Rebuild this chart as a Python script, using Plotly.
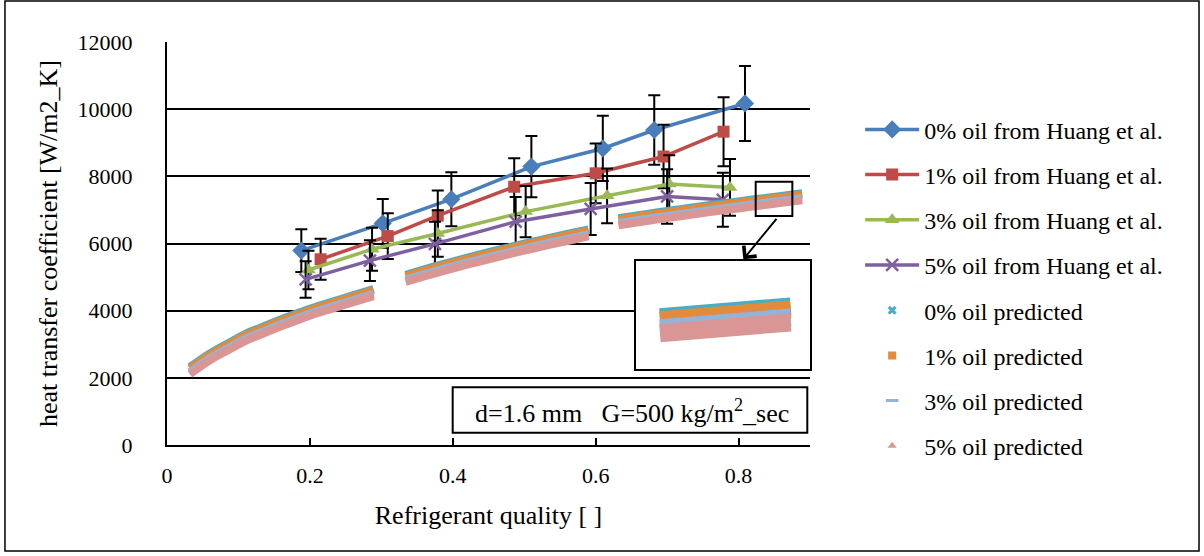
import plotly.graph_objects as go

# ---------------- data ----------------
exp_labels = ["0% oil from Huang et al.", "1% oil from Huang et al.",
              "3% oil from Huang et al.", "5% oil from Huang et al."]
exp_x_0 = [0.188, 0.302, 0.398, 0.510, 0.610, 0.682, 0.809]
exp_y_0 = [5790, 6600, 7320, 8290, 8830, 9380, 10170]
exp_x_1 = [0.215, 0.309, 0.379, 0.486, 0.600, 0.695, 0.779]
exp_y_1 = [5530, 6220, 6830, 7690, 8090, 8590, 9330]
exp_x_3 = [0.198, 0.287, 0.379, 0.502, 0.616, 0.703, 0.788]
exp_y_3 = [5210, 5830, 6300, 6950, 7420, 7770, 7670]
exp_x_5 = [0.194, 0.284, 0.375, 0.488, 0.593, 0.700, 0.778]
exp_y_5 = [4930, 5490, 5990, 6650, 7030, 7400, 7300]
error_percent = 11

pred_labels = ["0% oil predicted", "1% oil predicted", "3% oil predicted", "5% oil predicted"]
pred_x = [
    [0.032, 0.06, 0.085, 0.11, 0.135, 0.16, 0.185, 0.21, 0.235, 0.26, 0.289],
    [0.334, 0.36, 0.385, 0.41, 0.435, 0.46, 0.485, 0.51, 0.535, 0.56, 0.59],
    [0.632, 0.66, 0.685, 0.71, 0.735, 0.76, 0.785, 0.81, 0.835, 0.86, 0.889],
]
pred_0 = [
    [2320, 2730, 3025, 3310, 3530, 3745, 3942, 4132, 4294, 4456, 4645],
    [5070, 5231, 5379, 5522, 5659, 5792, 5921, 6046, 6167, 6285, 6422],
    [6753, 6843, 6921, 6997, 7072, 7144, 7215, 7284, 7352, 7419, 7494],
]
pred_1 = [
    [2280, 2690, 2985, 3270, 3490, 3705, 3902, 4092, 4254, 4416, 4605],
    [5030, 5191, 5339, 5482, 5619, 5752, 5881, 6006, 6127, 6245, 6382],
    [6713, 6803, 6881, 6957, 7032, 7104, 7175, 7244, 7312, 7379, 7454],
]
pred_3 = [
    [2175, 2585, 2880, 3165, 3385, 3600, 3797, 3987, 4149, 4311, 4500],
    [4925, 5086, 5234, 5377, 5514, 5647, 5776, 5901, 6022, 6140, 6277],
    [6608, 6698, 6776, 6852, 6927, 6999, 7070, 7139, 7207, 7274, 7349],
]
pred_5 = [
    [2110, 2520, 2815, 3100, 3320, 3535, 3732, 3922, 4084, 4246, 4435],
    [4860, 5021, 5169, 5312, 5449, 5582, 5711, 5836, 5957, 6075, 6212],
    [6543, 6633, 6711, 6787, 6862, 6934, 7005, 7074, 7142, 7209, 7284],
]
zoom_x_min = 0.83   # part of the last segment shown magnified in the inset

# ---------------- styles ----------------
FONT = "Liberation Serif"
exp_colors = ["#4A7EBB", "#BE4B48", "#98B954", "#7D60A0"]
exp_symbols = ["diamond", "square", "triangle-up", "x-thin"]
exp_sizes = [14, 12, 13, 12]
pred_colors = ["#4BACC6", "#E38A3C", "#95B3D7", "#D99694"]
pred_symbols = ["x", "square", "line-ew", "triangle-up"]


def joined(segs):
    out = []
    for i, s in enumerate(segs):
        if i:
            out.append(None)
        out.extend(s)
    return out


fig = go.Figure()

exp_x = [exp_x_0, exp_x_1, exp_x_3, exp_x_5]
exp_y = [exp_y_0, exp_y_1, exp_y_3, exp_y_5]
for i in range(4):
    sym = exp_symbols[i]
    marker = dict(symbol=sym, size=exp_sizes[i], color=exp_colors[i])
    if sym == "x-thin":
        marker = dict(symbol=sym, size=exp_sizes[i], color=exp_colors[i],
                      line=dict(color=exp_colors[i], width=2.5))
    fig.add_trace(go.Scatter(
        x=exp_x[i], y=exp_y[i], mode="lines+markers", name=exp_labels[i],
        legendgroup="e%d" % i,
        line=dict(color=exp_colors[i], width=3.5), marker=marker,
        error_y=dict(type="percent", value=error_percent, color="black",
                     thickness=2, width=6),
    ))

preds = [pred_0, pred_1, pred_3, pred_5]
for i in range(4):
    fig.add_trace(go.Scatter(
        x=joined(pred_x), y=joined(preds[i]), mode="lines",
        line=dict(color=pred_colors[i], width=8, shape="spline"),
        showlegend=False, connectgaps=False, hoverinfo="skip",
    ))

# inset (magnified view)
for i in range(4):
    xs = [x for x in pred_x[2] if x >= zoom_x_min]
    ys = [y for x, y in zip(pred_x[2], preds[i][2]) if x >= zoom_x_min]
    fig.add_trace(go.Scatter(
        x=xs, y=ys, mode="lines", xaxis="x2", yaxis="y2",
        line=dict(color=pred_colors[i], width=18),
        showlegend=False, hoverinfo="skip",
    ))

# legend entries for predicted series
for i in range(4):
    m = dict(symbol=pred_symbols[i], size=8, color=pred_colors[i])
    if pred_symbols[i] == "line-ew":
        m = dict(symbol="line-ew", size=9, color=pred_colors[i],
                 line=dict(color=pred_colors[i], width=3))
    fig.add_trace(go.Scatter(
        x=[None], y=[None], mode="markers", name=pred_labels[i],
        legendgroup="p%d" % i, marker=m,
    ))

fig.update_layout(
    width=1204, height=556,
    margin=dict(l=167, r=394, t=42, b=111),
    paper_bgcolor="white", plot_bgcolor="white",
    font=dict(family=FONT, size=22, color="black"),
    showlegend=True,
    legend=dict(x=1.078, y=0.838, xanchor="left", yanchor="top",
                font=dict(family=FONT, size=24, color="black"),
                traceorder="grouped", tracegroupgap=11, itemwidth=54,
                bgcolor="rgba(0,0,0,0)"),
    xaxis=dict(range=[0, 0.9], tick0=0, dtick=0.2, showgrid=False, zeroline=False,
               showline=True, linecolor="black", linewidth=2,
               ticks="inside", ticklen=7, tickwidth=1.5, tickcolor="black",
               ticklabelstandoff=10,
               tickfont=dict(family=FONT, size=22),
               title=dict(text="Refrigerant quality [ ]", standoff=18,
                          font=dict(family=FONT, size=26))),
    yaxis=dict(range=[0, 12000], dtick=2000, tickformat="d", showgrid=True,
               gridcolor="black", gridwidth=1.5, zeroline=False, showline=True,
               linecolor="black", linewidth=2, ticks="", ticklabelstandoff=28,
               tickfont=dict(family=FONT, size=22),
               title=dict(text="heat transfer coefficient [W/m2_K]", standoff=12,
                          font=dict(family=FONT, size=26))),
    xaxis2=dict(domain=[0.729, 1.0], anchor="y2", range=[0.825, 0.897],
                showgrid=False, zeroline=False, showticklabels=False, ticks="",
                showline=True, mirror=True, linecolor="black", linewidth=2),
    yaxis2=dict(domain=[0.189, 0.457], anchor="x2", range=[6675, 8093],
                showgrid=False, zeroline=False, showticklabels=False, ticks="",
                showline=True, mirror=True, linecolor="black", linewidth=2),
)

# text box
fig.add_shape(type="rect", xref="paper", yref="paper",
              x0=0.4443, x1=0.9958, y0=0.0305, y1=0.1432,
              line=dict(color="black", width=2), fillcolor="white", layer="above")
fig.add_annotation(xref="paper", yref="paper", x=0.7227, y=0.084,
                   xanchor="center", yanchor="middle", showarrow=False,
                   text="d=1.6 mm\u00a0\u00a0\u00a0G=500 kg/m<sup>2</sup>_sec",
                   font=dict(family=FONT, size=26, color="black"))

# small zoom box and arrow
fig.add_shape(type="rect", xref="x", yref="y", x0=0.824, x1=0.8753, y0=6820, y1=7841,
              line=dict(color="black", width=2), layer="above")
fig.add_annotation(xref="x", yref="y", x=0.8067, y=5530, axref="x", ayref="y",
                   ax=0.8548, ay=6781, showarrow=True, arrowhead=4, arrowsize=1.6,
                   arrowwidth=2, arrowcolor="black", text="")

# outer chart border
fig.add_shape(type="rect", xref="paper", yref="paper",
              x0=-0.252, x1=1.605, y0=-0.263, y1=1.1017,
              line=dict(color="black", width=1.5), layer="above")

fig.write_html("out.html", config={"displayModeBar": False},
               post_script="document.body.style.margin='0px';document.body.style.overflow='hidden';")
